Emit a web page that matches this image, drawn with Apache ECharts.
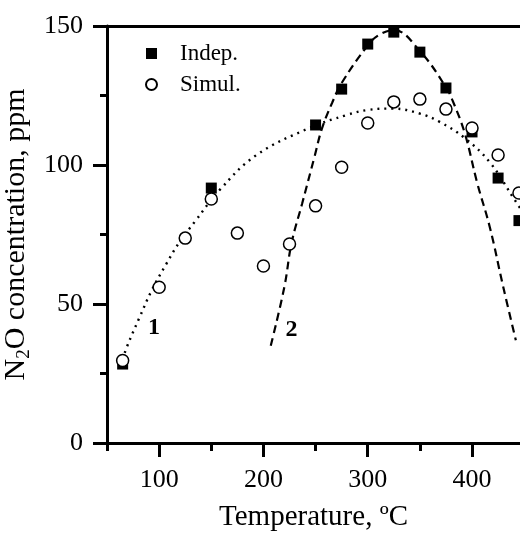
<!DOCTYPE html>
<html>
<head>
<meta charset="utf-8">
<script src="https://cdn.jsdelivr.net/npm/echarts@6/dist/echarts.min.js"></script>
<style>
html,body{margin:0;padding:0;background:#fff;}
#c{width:520px;height:533px;}
</style>
</head>
<body>
<div id="c"></div>
<script>
// ---- data ----
const xMajorTicks = [100, 200, 300, 400];
const xMinorTicks = [50, 150, 250, 350];
const yTicks = [0, 50, 100, 150];

const indepT   = [65, 150, 250, 275, 300, 325, 350, 375, 400, 425, 445];
const indepN2O = [28.4, 91.7, 114.4, 127.3, 143.5, 147.8, 140.6, 127.7, 111.9, 95.3, 80];

const simulT   = [65, 100, 125, 150, 175, 200, 225, 250, 275, 300, 325, 350, 375, 400, 425, 445];
const simulN2O = [29.7, 56, 73.7, 87.8, 75.5, 63.7, 71.6, 85.3, 99.2, 115.1, 122.7, 123.7, 120.1, 113.3, 103.6, 89.9];

// curve 1 (dotted) and curve 2 (dashed)
const fit1T   = [65, 69, 81, 93, 107, 119, 135, 158, 193, 244, 280, 300, 324, 350, 369, 393, 417, 441, 446];
const fit1N2O = [30, 34.5, 45, 55, 64.5, 72, 80, 91, 103.5, 113.3, 118, 119.8, 120.3, 118.5, 115.5, 109.7, 101, 87.4, 84.5];

const fit2T   = [207, 220, 227, 237, 249, 256, 266, 275, 300, 311, 325, 350, 375, 381, 393, 405, 417, 430, 442];
const fit2N2O = [35, 56, 72, 86, 103, 113, 122.5, 129.5, 143, 146.8, 148.5, 141, 128, 123.5, 111.5, 93.5, 77.7, 56, 37];

const curveLabels = [{ name: '1', t: 95, v: 41.4 }, { name: '2', t: 227, v: 40.6 }];

const xMin = 50, xMax = 446;

const zip = (a, b) => a.map((v, i) => [v, b[i]]);
const FONT = 'Liberation Serif';

const chart = echarts.init(document.getElementById('c'), null, { renderer: 'canvas' });
chart.setOption({
  backgroundColor: '#fff',
  animation: false,
  textStyle: { fontFamily: FONT, color: '#000' },
  grid: { left: 107, right: 0, top: 26, bottom: 90, containLabel: false, outerBoundsMode: 'none' },
  legend: {
    data: ['Indep.', 'Simul.'],
    orient: 'vertical',
    left: 140, top: 37,
    itemWidth: 11, itemHeight: 11, itemGap: 8,
    textStyle: { fontFamily: FONT, fontSize: 23, color: '#000', padding: [0, 0, 0, 18] },
    selectedMode: false
  },
  xAxis: [
    {
      type: 'value', min: xMin, max: xMax, position: 'bottom',
      name: 'Temperature, ºC', nameLocation: 'middle', nameGap: 60,
      nameTextStyle: { fontFamily: FONT, fontSize: 29, color: '#000' },
      axisLine: { show: true, onZero: false, lineStyle: { color: '#000', width: 3 } },
      axisTick: { show: true, customValues: xMajorTicks, length: 14, lineStyle: { color: '#000', width: 3 } },
      axisLabel: { customValues: xMajorTicks, fontFamily: FONT, fontSize: 26, color: '#000', margin: 24 },
      splitLine: { show: false }
    },
    {
      type: 'value', min: xMin, max: xMax, position: 'bottom',
      axisLine: { show: false, onZero: false },
      axisTick: { show: true, customValues: xMinorTicks, length: 8, lineStyle: { color: '#000', width: 3 } },
      axisLabel: { show: false },
      splitLine: { show: false }
    },
    {
      type: 'value', min: xMin, max: xMax, position: 'top',
      axisLine: { show: true, onZero: false, lineStyle: { color: '#000', width: 3 } },
      axisTick: { show: false }, axisLabel: { show: false }, splitLine: { show: false }
    }
  ],
  yAxis: {
    type: 'value', min: 0, max: 150, interval: 50,
    name: '{t|N}{s|2}{t|O concentration, ppm}', nameLocation: 'middle', nameGap: 58, nameRotate: 90,
    nameTextStyle: {
      rich: {
        t: { fontFamily: FONT, fontSize: 30, color: '#000' },
        s: { fontFamily: FONT, fontSize: 19, color: '#000', padding: [14, 0, 0, 0] }
      }
    },
    axisLine: { show: true, onZero: false, lineStyle: { color: '#000', width: 3 } },
    axisTick: { show: true, length: 14, lineStyle: { color: '#000', width: 3 } },
    minorTick: { show: true, splitNumber: 2, length: 7, lineStyle: { color: '#000', width: 3 } },
    axisLabel: { fontFamily: FONT, fontSize: 26, color: '#000', margin: 24 },
    splitLine: { show: false }
  },
  series: [
    {
      name: 'fit1', type: 'line', data: zip(fit1T, fit1N2O), smooth: 0.4, symbol: 'none',
      lineStyle: { color: '#000', width: 2.4, type: [2, 5] }, silent: true, z: 1
    },
    {
      name: 'fit2', type: 'line', data: zip(fit2T, fit2N2O), smooth: 0.4, symbol: 'none',
      lineStyle: { color: '#000', width: 2.2, type: [8, 5] }, silent: true, z: 1
    },
    {
      name: 'Indep.', type: 'scatter', data: zip(indepT, indepN2O), symbol: 'rect', symbolSize: 11,
      itemStyle: { color: '#000', opacity: 1 }, z: 3
    },
    {
      name: 'Simul.', type: 'scatter', data: zip(simulT, simulN2O), symbol: 'circle', symbolSize: 12,
      itemStyle: { color: '#fff', borderColor: '#000', borderWidth: 1.5, opacity: 1 }, z: 4
    },
    {
      name: 'labels', type: 'scatter', symbolSize: 1, silent: true,
      data: curveLabels.map(d => ({ name: d.name, value: [d.t, d.v] })),
      itemStyle: { color: 'rgba(0,0,0,0)', opacity: 1 },
      label: { show: true, position: 'inside', formatter: p => p.name, fontFamily: FONT, fontWeight: 'bold', fontSize: 24, color: '#000' },
      z: 5
    }
  ]
});
</script>
</body>
</html>
